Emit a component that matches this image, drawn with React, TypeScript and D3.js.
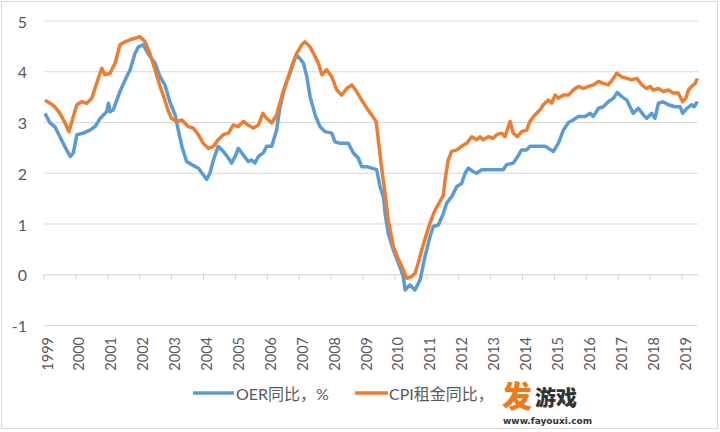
import React from "react";
import * as d3 from "d3";

const W = 720;
const H = 432;

const yTicks = [-1, 0, 1, 2, 3, 4, 5];
const yearLabels = ["1999","2000","2001","2002","2003","2004","2005","2006","2007","2008","2009","2010","2011","2012","2013","2014","2015","2016","2017","2018","2019"];

const oerDates = [1999.03,1999.19,1999.34,1999.60,1999.82,1999.92,2000.03,2000.23,2000.44,2000.60,2000.76,2000.97,2001.02,2001.07,2001.17,2001.38,2001.59,2001.70,2001.85,2001.96,2002.11,2002.32,2002.48,2002.64,2002.79,2002.95,2003.11,2003.21,2003.32,2003.47,2003.63,2003.84,2003.99,2004.10,2004.20,2004.31,2004.46,2004.62,2004.78,2004.88,2004.99,2005.09,2005.25,2005.40,2005.51,2005.61,2005.72,2005.87,2005.98,2006.14,2006.29,2006.40,2006.55,2006.71,2006.87,2006.97,2007.13,2007.24,2007.34,2007.50,2007.65,2007.81,2008.02,2008.12,2008.28,2008.54,2008.70,2008.85,2008.96,2009.12,2009.27,2009.43,2009.53,2009.64,2009.69,2009.79,2009.95,2010.11,2010.26,2010.32,2010.47,2010.63,2010.79,2010.94,2011.10,2011.20,2011.36,2011.52,2011.62,2011.78,2011.94,2012.09,2012.20,2012.30,2012.46,2012.56,2012.72,2013.40,2013.50,2013.71,2013.82,2013.97,2014.13,2014.23,2014.71,2014.97,2015.12,2015.28,2015.44,2015.59,2015.75,2015.96,2016.12,2016.22,2016.38,2016.53,2016.69,2016.85,2016.97,2017.11,2017.27,2017.37,2017.47,2017.63,2017.79,2017.89,2018.05,2018.15,2018.26,2018.41,2018.57,2018.78,2018.94,2019.02,2019.15,2019.30,2019.38,2019.48];
const oerValues = [3.18,2.99,2.92,2.59,2.33,2.40,2.76,2.79,2.85,2.92,3.08,3.22,3.38,3.21,3.25,3.61,3.90,4.04,4.36,4.49,4.53,4.30,4.17,3.90,3.74,3.40,3.15,2.85,2.53,2.23,2.17,2.10,1.97,1.88,2.00,2.26,2.53,2.43,2.30,2.20,2.33,2.49,2.36,2.23,2.26,2.20,2.33,2.40,2.53,2.53,2.85,3.31,3.71,3.97,4.27,4.30,4.17,3.90,3.51,3.15,2.92,2.82,2.79,2.62,2.59,2.59,2.40,2.30,2.13,2.13,2.10,2.07,1.74,1.54,1.21,0.82,0.49,0.23,-0.03,-0.30,-0.20,-0.30,-0.10,0.35,0.75,0.95,0.98,1.21,1.41,1.54,1.74,1.80,2.00,2.10,2.03,2.00,2.07,2.07,2.17,2.20,2.30,2.46,2.46,2.53,2.53,2.43,2.59,2.85,3.00,3.05,3.12,3.12,3.18,3.12,3.28,3.31,3.41,3.48,3.59,3.51,3.44,3.31,3.18,3.28,3.15,3.08,3.18,3.08,3.38,3.41,3.35,3.31,3.31,3.18,3.28,3.35,3.31,3.41];

const cpiDates = [1999.03,1999.19,1999.34,1999.50,1999.66,1999.78,1999.92,2000.03,2000.18,2000.34,2000.50,2000.65,2000.81,2000.91,2001.07,2001.23,2001.38,2001.54,2001.70,2001.85,2002.01,2002.17,2002.32,2002.48,2002.64,2002.79,2002.90,2003.00,2003.16,2003.32,2003.52,2003.68,2003.84,2003.99,2004.15,2004.31,2004.46,2004.62,2004.78,2004.93,2005.09,2005.25,2005.40,2005.56,2005.72,2005.86,2005.98,2006.14,2006.29,2006.45,2006.61,2006.76,2006.92,2007.08,2007.18,2007.34,2007.50,2007.60,2007.71,2007.86,2008.02,2008.18,2008.33,2008.49,2008.65,2008.80,2008.96,2009.12,2009.27,2009.41,2009.48,2009.59,2009.69,2009.79,2009.95,2010.11,2010.26,2010.37,2010.53,2010.63,2010.73,2010.84,2011.00,2011.10,2011.26,2011.41,2011.52,2011.57,2011.67,2011.78,2011.94,2012.09,2012.25,2012.41,2012.56,2012.67,2012.77,2012.93,2013.08,2013.19,2013.35,2013.45,2013.61,2013.71,2013.84,2013.97,2014.13,2014.23,2014.39,2014.55,2014.65,2014.81,2014.92,2015.02,2015.12,2015.28,2015.44,2015.59,2015.75,2015.91,2016.06,2016.22,2016.38,2016.53,2016.69,2016.85,2016.95,2017.11,2017.27,2017.42,2017.58,2017.74,2017.89,2018.00,2018.10,2018.26,2018.41,2018.57,2018.73,2018.88,2019.02,2019.12,2019.20,2019.30,2019.41,2019.48];
const cpiValues = [3.44,3.38,3.31,3.18,2.99,2.82,3.12,3.35,3.41,3.38,3.48,3.77,4.07,3.94,3.97,4.17,4.53,4.59,4.63,4.66,4.69,4.59,4.36,4.04,3.71,3.44,3.22,3.08,3.02,3.05,2.92,2.89,2.76,2.59,2.49,2.53,2.66,2.76,2.79,2.95,2.92,3.02,2.95,2.89,2.95,3.18,3.08,2.99,3.15,3.51,3.81,4.10,4.36,4.53,4.59,4.49,4.30,4.17,3.94,4.04,3.90,3.64,3.54,3.67,3.74,3.61,3.44,3.28,3.15,3.02,2.66,2.07,1.61,1.08,0.56,0.30,0.10,-0.07,-0.03,0.03,0.23,0.49,0.82,1.02,1.28,1.44,1.57,1.87,2.26,2.43,2.46,2.53,2.59,2.72,2.66,2.72,2.66,2.72,2.69,2.76,2.79,2.72,3.02,2.79,2.72,2.82,2.85,3.02,3.15,3.25,3.35,3.44,3.38,3.54,3.48,3.54,3.54,3.64,3.71,3.67,3.71,3.74,3.81,3.77,3.74,3.87,3.97,3.90,3.87,3.84,3.87,3.74,3.67,3.71,3.64,3.67,3.61,3.64,3.58,3.58,3.41,3.48,3.64,3.71,3.77,3.87];

const seriesNames = ["OER同比，%", "CPI租金同比，"];
const colors = ["#5B9BD5", "#ED7D31"];

const FONT = "Lato, 'Noto Sans CJK SC', sans-serif";

export default function App() {
  const x = d3.scaleLinear().domain([1999, 2019.5]).range([44, 698]);
  const y = d3.scaleLinear().domain([-1, 5]).range([325.5, 21]);
  const line = d3
    .line<[number, number]>()
    .x((d) => x(d[0]))
    .y((d) => y(d[1]))
    .curve(d3.curveLinear);
  const oer = oerDates.map((d, i) => [d, oerValues[i]] as [number, number]);
  const cpi = cpiDates.map((d, i) => [d, cpiValues[i]] as [number, number]);

  return (
    <svg
      width={W}
      height={H}
      style={{ position: "absolute", left: 0, top: 0, background: "#fff" }}
      fontFamily={FONT}
    >
      <rect x={0} y={0} width={W} height={H} fill="#fff" />
      <rect x={1.5} y={1.5} width={716} height={427} fill="none" stroke="#d9d9d9" strokeWidth={1} />
      {yTicks.map((t) => (
        <g key={t}>
          {t !== 0 && (
            <line x1={44} x2={698} y1={y(t)} y2={y(t)} stroke="#d9d9d9" strokeWidth={1} />
          )}
          <text
            x={27}
            y={y(t)}
            textAnchor="end"
            dominantBaseline="central"
            fontSize={16}
            fill="#595959"
          >
            {t}
          </text>
        </g>
      ))}
      <line x1={44} x2={698} y1={y(0)} y2={y(0)} stroke="#d0d0d0" strokeWidth={1} />
      {yearLabels.map((lab) => {
        const xx = x(+lab);
        return (
          <g key={lab}>
            <line x1={xx} x2={xx} y1={y(0)} y2={y(0) + 5} stroke="#d0d0d0" strokeWidth={1} />
            <text
              transform={`translate(${xx + 3},337) rotate(-90)`}
              textAnchor="end"
              dominantBaseline="central"
              fontSize={14.5}
              fill="#595959"
            >
              {lab}
            </text>
          </g>
        );
      })}
      <path d={line(oer) || ""} fill="none" stroke={colors[0]} strokeWidth={3.5} strokeLinejoin="round" />
      <path d={line(cpi) || ""} fill="none" stroke={colors[1]} strokeWidth={3.5} strokeLinejoin="round" />
      <g>
        <line x1={193} x2={234} y1={393} y2={393} stroke={colors[0]} strokeWidth={3.5} />
        <text x={236} y={393} dominantBaseline="central" fontSize={16} fill="#595959">
          {seriesNames[0]}
        </text>
        <line x1={355} x2={388} y1={393} y2={393} stroke={colors[1]} strokeWidth={3.5} />
        <text x={389} y={393} dominantBaseline="central" fontSize={16} fill="#595959">
          {seriesNames[1]}
        </text>
      </g>
      <g fontFamily="'Noto Sans CJK SC', sans-serif" fontWeight={900}>
        <text x={502} y={407} fontSize={30} fill="#F07A1A">发</text>
        <text x={535} y={405} fontSize={21} fill="#333">游戏</text>
        <text x={503} y={424} fontSize={9} fill="#333" fontFamily="'DejaVu Sans', sans-serif" fontWeight={700}>
          www.fayouxi.com
        </text>
      </g>
    </svg>
  );
}
